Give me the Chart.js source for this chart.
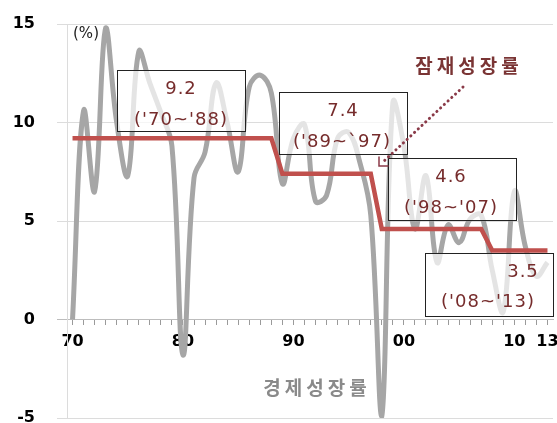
<!DOCTYPE html>
<html>
<head>
<meta charset="utf-8">
<script src="https://cdn.jsdelivr.net/npm/chart.js@4.4.1/dist/chart.umd.min.js"></script>
<style>
  html, body { margin: 0; padding: 0; background: #fff; }
  #wrap { width: 557px; height: 423px; position: relative; }
</style>
</head>
<body>
<div id="wrap"><canvas id="chart"></canvas></div>
<script>
// years on the x axis
const years = [1970, 1971, 1972, 1973, 1974, 1975, 1976, 1977, 1978, 1979,
  1980, 1981, 1982, 1983, 1984, 1985, 1986, 1987, 1988, 1989,
  1990, 1991, 1992, 1993, 1994, 1995, 1996, 1997, 1998, 1999,
  2000, 2001, 2002, 2003, 2004, 2005, 2006, 2007, 2008, 2009,
  2010, 2011, 2012, 2013];

// 경제성장률 (%)
const gdpGrowth = [0, 10.6, 6.5, 14.8, 10.0, 7.3, 13.6, 12.0, 10.5, 8.8,
  -1.8, 7.2, 8.5, 12.0, 10.0, 7.5, 11.8, 12.4, 11.5, 6.9,
  9.2, 9.9, 6.0, 6.3, 9.2, 9.5, 8.0, 5.3, -4.9, 11.0,
  8.8, 4.6, 7.3, 2.9, 4.8, 3.9, 5.1, 5.3, 2.5, 0.4,
  6.5, 3.7, 2.2, 2.9];

// 잠재성장률 (%)
const potentialGrowth = [9.2, 9.2, 9.2, 9.2, 9.2, 9.2, 9.2, 9.2, 9.2, 9.2,
  9.2, 9.2, 9.2, 9.2, 9.2, 9.2, 9.2, 9.2, 9.2, 7.4,
  7.4, 7.4, 7.4, 7.4, 7.4, 7.4, 7.4, 7.4, 4.6, 4.6,
  4.6, 4.6, 4.6, 4.6, 4.6, 4.6, 4.6, 4.6, 3.5, 3.5,
  3.5, 3.5, 3.5, 3.5];

const tickYears = [1970, 1980, 1990, 2000, 2010, 2013];
const tickLabels = ['70', '80', '90', '00', '10', '13'];

// period annotation boxes
const periodValues = ['9.2', '7.4', '4.6', '3.5'];
const periodRanges = ["('70~'88)", "('89~`97)", "('98~'07)", "('08~'13)"];

const textRed = '#762c2c';

const notes = {
  id: 'notes',
  afterDatasetsDraw(chart) {
    const ctx = chart.ctx;
    const boxes = [
      { r: [117, 70, 128, 61], a: [181, 89], b: [181, 120] },
      { r: [279, 92, 128, 62], a: [343, 111], b: [342, 142] },
      { r: [388, 158, 128, 62], a: [451, 177], b: [451, 208] },
      { r: [425, 253, 128, 63], a: [523, 272], b: [488, 302] }
    ];
    ctx.save();
    boxes.forEach((bx, i) => {
      ctx.fillStyle = 'rgba(255,255,255,0.7)';
      ctx.fillRect(bx.r[0], bx.r[1], bx.r[2], bx.r[3]);
      ctx.strokeStyle = '#222';
      ctx.lineWidth = 1;
      ctx.strokeRect(bx.r[0] + 0.5, bx.r[1] + 0.5, bx.r[2], bx.r[3]);
      ctx.fillStyle = textRed;
      ctx.font = '18px "DejaVu Sans"';
      ctx.textAlign = 'center';
      ctx.textBaseline = 'middle';
      ctx.letterSpacing = '1px';
      ctx.fillText(periodValues[i], bx.a[0], bx.a[1]);
      ctx.fillText(periodRanges[i], bx.b[0], bx.b[1]);
    });
    ctx.letterSpacing = '0px';

    // dotted pointer to the potential growth line
    ctx.strokeStyle = '#8a3a48';
    ctx.lineWidth = 3;
    ctx.lineCap = 'round';
    ctx.setLineDash([0.1, 5]);
    ctx.beginPath();
    ctx.moveTo(463, 87);
    ctx.lineTo(384, 161);
    ctx.stroke();
    ctx.setLineDash([]);
    ctx.lineWidth = 1.5;
    ctx.beginPath();
    ctx.moveTo(379, 157);
    ctx.lineTo(379, 166);
    ctx.lineTo(388, 166);
    ctx.stroke();

    ctx.textAlign = 'center';
    ctx.textBaseline = 'middle';
    ctx.letterSpacing = '4px';
    ctx.font = 'bold 19px "Noto Sans CJK KR"';
    ctx.fillStyle = '#7a3434';
    ctx.fillText('잠재성장률', 469, 66);
    ctx.fillStyle = '#8a8a8a';
    ctx.fillText('경제성장률', 317, 388);
    ctx.letterSpacing = '0px';

    ctx.font = '15px "DejaVu Sans"';
    ctx.fillStyle = '#222';
    ctx.fillText('(%)', 86, 34);
    ctx.restore();
  }
};

new Chart(document.getElementById('chart'), {
  type: 'line',
  data: {
    labels: years,
    datasets: [
      {
        label: '경제성장률',
        data: gdpGrowth,
        borderColor: '#a6a6a6',
        borderWidth: 5,
        tension: 0.4,
        pointRadius: 0,
        order: 2
      },
      {
        label: '잠재성장률',
        data: potentialGrowth,
        borderColor: '#c0504d',
        borderWidth: 4.5,
        tension: 0,
        pointRadius: 0,
        order: 1
      }
    ]
  },
  options: {
    responsive: true,
    maintainAspectRatio: false,
    animation: false,
    layout: { padding: { top: 24, right: 4, bottom: 5, left: 0 } },
    plugins: {
      legend: { display: false },
      tooltip: { enabled: false }
    },
    scales: {
      x: {
        type: 'category',
        offset: true,
        position: { y: 0 },
        afterFit(scale) {
          scale.height = 0;
          scale.paddingLeft = 0;
          scale.paddingRight = 0;
          scale.paddingTop = 0;
          scale.paddingBottom = 0;
        },
        grid: {
          offset: false,
          drawOnChartArea: false,
          drawTicks: true,
          tickLength: 5,
          color: '#9a9a9a'
        },
        border: { display: true, color: '#bdbdbd' },
        ticks: {
          autoSkip: false,
          maxRotation: 0,
          padding: 8,
          color: '#000',
          font: { family: 'DejaVu Sans', size: 16, weight: 'bold' },
          callback(value, index) {
            const k = tickYears.indexOf(years[index]);
            return k >= 0 ? tickLabels[k] : '';
          }
        }
      },
      y: {
        min: -5,
        max: 15,
        afterFit(scale) {
          scale.width = 67;
          scale.paddingTop = 0;
          scale.paddingBottom = 0;
        },
        grid: {
          color: (c) => c.tick && c.tick.value === 0 ? '#bdbdbd' : '#dcdcdc',
          tickLength: 10
        },
        border: { display: true, color: '#dcdcdc' },
        ticks: {
          stepSize: 5,
          padding: 22,
          color: '#000',
          font: { family: 'DejaVu Sans', size: 16, weight: 'bold' }
        }
      }
    }
  },
  plugins: [notes]
});
</script>
</body>
</html>
